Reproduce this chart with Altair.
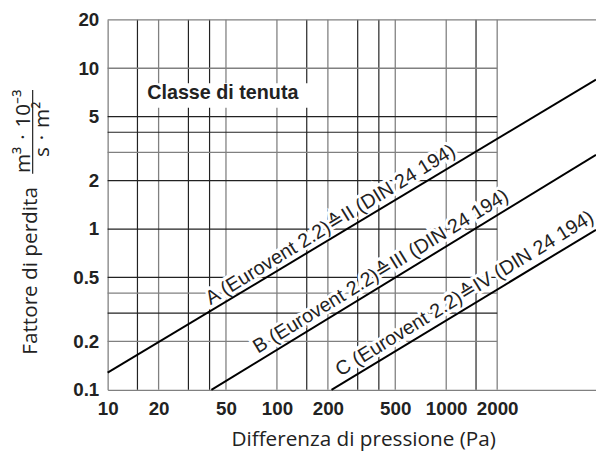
import altair as alt
import pandas as pd

# ---------------- data ----------------
x_labels = [10, 20, 50, 100, 200, 500, 1000, 2000]
y_labels = [0.1, 0.2, 0.5, 1, 2, 5, 10, 20]

x_grid_light = [20, 50, 100, 200, 500, 1000, 2000]
x_grid_dark = [15, 30, 40, 150, 300, 400, 1500]
y_grid_light = [10, 3, 0.4, 0.2]
y_grid_dark = [5, 4, 2, 1, 0.5, 0.3]

X_MIN, X_MAX = 10, 7670
Y_MIN, Y_MAX = 0.1, 20
GRID_X_END = 2000

classes = ["A", "B", "C"]
line_start_x = [10, 41, 210]
line_start_y = [0.128, 0.1, 0.1]
line_end_x = [7670, 7670, 7670]
line_end_y = [8.5, 2.89, 0.99]

class_labels = [
    "A (Eurovent 2.2)\u2259II (DIN 24 194)",
    "B (Eurovent 2.2)\u2259III (DIN 24 194)",
    "C (Eurovent 2.2)\u2259IV (DIN 24 194)",
]
label_x = [224, 444, 1390]
label_y = [0.93, 0.477, 0.347]

box_title = "Classe di tenuta"
box_x = [16.1, 169]
box_y = [5.68, 8.07]
box_text_pos = [47.9, 7.0]

x_title = "Differenza di pressione (Pa)"
y_title = "Fattore di perdita"
unit_num = "m\u00b3\u2004\u00b7\u200410\u207b\u00b3"
unit_den = "s\u2004\u00b7\u2004m\u00b2"

# ---------------- tables ----------------
lines_df = pd.DataFrame({
    "cls": classes + classes,
    "x": line_start_x + line_end_x,
    "y": line_start_y + line_end_y,
})
labels_df = pd.DataFrame({"t": class_labels, "x": label_x, "y": label_y})
vdark = pd.DataFrame({"x": x_grid_dark, "y1": Y_MIN, "y2": Y_MAX})
vlight = pd.DataFrame({"x": x_grid_light, "y1": Y_MIN, "y2": Y_MAX})
hdark = pd.DataFrame({"y": y_grid_dark, "x1": X_MIN, "x2": GRID_X_END})
hlight = pd.DataFrame({"y": y_grid_light, "x1": X_MIN, "x2": GRID_X_END})
top_df = pd.DataFrame({"y": [Y_MAX], "x1": [X_MIN], "x2": [X_MAX]})
box_df = pd.DataFrame({"x1": [box_x[0]], "x2": [box_x[1]], "y1": [box_y[0]], "y2": [box_y[1]]})
box_txt_df = pd.DataFrame({"x": [box_text_pos[0]], "y": [box_text_pos[1]], "t": [box_title]})
num_df = pd.DataFrame({"t": [unit_num]})
den_df = pd.DataFrame({"t": [unit_den]})

xs = alt.Scale(type="log", domain=[X_MIN, X_MAX], nice=False)
ys = alt.Scale(type="log", domain=[Y_MIN, Y_MAX], nice=False)

DARK = "#222222"
LIGHT = "#808080"
TXT = "#222222"

x_axis = alt.Axis(
    values=x_labels, format="d", title=x_title, grid=False, ticks=False,
    labelPadding=10, labelFlush=False, labelOverlap=False,
    labelFont="Liberation Sans", labelFontSize=19, labelFontWeight="bold", labelColor=TXT,
    domainColor=LIGHT, domainWidth=1.3,
    titleFont="Open Sans", titleFontSize=21, titleFontWeight="normal", titleColor=TXT,
    titleX=259, titleY=56, titleBaseline="alphabetic", titleAlign="center",
)
y_axis = alt.Axis(
    values=y_labels, format="~g", title=y_title, grid=False, ticks=False,
    labelPadding=9, labelFlush=False, labelOverlap=False,
    labelFont="Liberation Sans", labelFontSize=19, labelFontWeight="bold", labelColor=TXT,
    domainColor=LIGHT, domainWidth=1.3,
    titleFont="Open Sans", titleFontSize=21, titleFontWeight="normal", titleColor=TXT,
    titleAngle=270, titleX=-72, titleY=254, titleBaseline="alphabetic", titleAlign="center",
)


def X(field):
    return alt.X(field, type="quantitative", scale=xs, axis=x_axis)


def Y(field):
    return alt.Y(field, type="quantitative", scale=ys, axis=y_axis)


v_dark = alt.Chart(vdark).mark_rule(color=DARK, strokeWidth=1.2).encode(x=X("x"), y=Y("y1"), y2="y2")
v_light = alt.Chart(vlight).mark_rule(color=LIGHT, strokeWidth=1.3).encode(x=X("x"), y=Y("y1"), y2="y2")
h_dark = alt.Chart(hdark).mark_rule(color=DARK, strokeWidth=1.2).encode(y=Y("y"), x=X("x1"), x2="x2")
h_light = alt.Chart(hlight).mark_rule(color=LIGHT, strokeWidth=1.3).encode(y=Y("y"), x=X("x1"), x2="x2")
top_line = alt.Chart(top_df).mark_rule(color=LIGHT, strokeWidth=1.3).encode(y=Y("y"), x=X("x1"), x2="x2")

box = alt.Chart(box_df).mark_rect(color="white").encode(x=X("x1"), x2="x2", y=Y("y1"), y2="y2")
box_text = alt.Chart(box_txt_df).mark_text(
    font="Liberation Sans", fontSize=20, fontWeight="bold", color=TXT, baseline="middle", align="center"
).encode(x=X("x"), y=Y("y"), text="t:N")

label_kw = dict(angle=328.5, align="center", baseline="alphabetic", dy=-5,
                font="Liberation Sans", fontSize=20)
halo = alt.Chart(labels_df).mark_text(color="white", stroke="white", strokeWidth=6, **label_kw).encode(
    x=X("x"), y=Y("y"), text="t:N")
curves = alt.Chart(lines_df).mark_line(color="black", strokeWidth=2).encode(
    x=X("x"), y=Y("y"), detail="cls:N")
label_text = alt.Chart(labels_df).mark_text(color=TXT, **label_kw).encode(
    x=X("x"), y=Y("y"), text="t:N")

frac_kw = dict(font="Open Sans", fontSize=21, color=TXT, angle=270, align="center", baseline="alphabetic")
num = alt.Chart(num_df).mark_text(**frac_kw).encode(x=alt.value(-79), y=alt.value(113), text="t:N")
den = alt.Chart(den_df).mark_text(**frac_kw).encode(x=alt.value(-59), y=alt.value(111), text="t:N")
bar = alt.Chart(num_df).mark_rule(color=TXT, strokeWidth=1.2).encode(
    x=alt.value(-76), y=alt.value(71), y2=alt.value(156))

chart = alt.layer(
    v_dark, v_light, h_dark, h_light, top_line, box, box_text, halo, curves, label_text, num, den, bar
).properties(
    width=495, height=375,
    autosize=alt.AutoSizeParams(type="none"),
    padding={"left": 101, "top": 9, "right": 0, "bottom": 60},
    background="white",
).configure_view(stroke=None)

chart.save("out.html", embed_options={"renderer": "svg", "actions": False})
